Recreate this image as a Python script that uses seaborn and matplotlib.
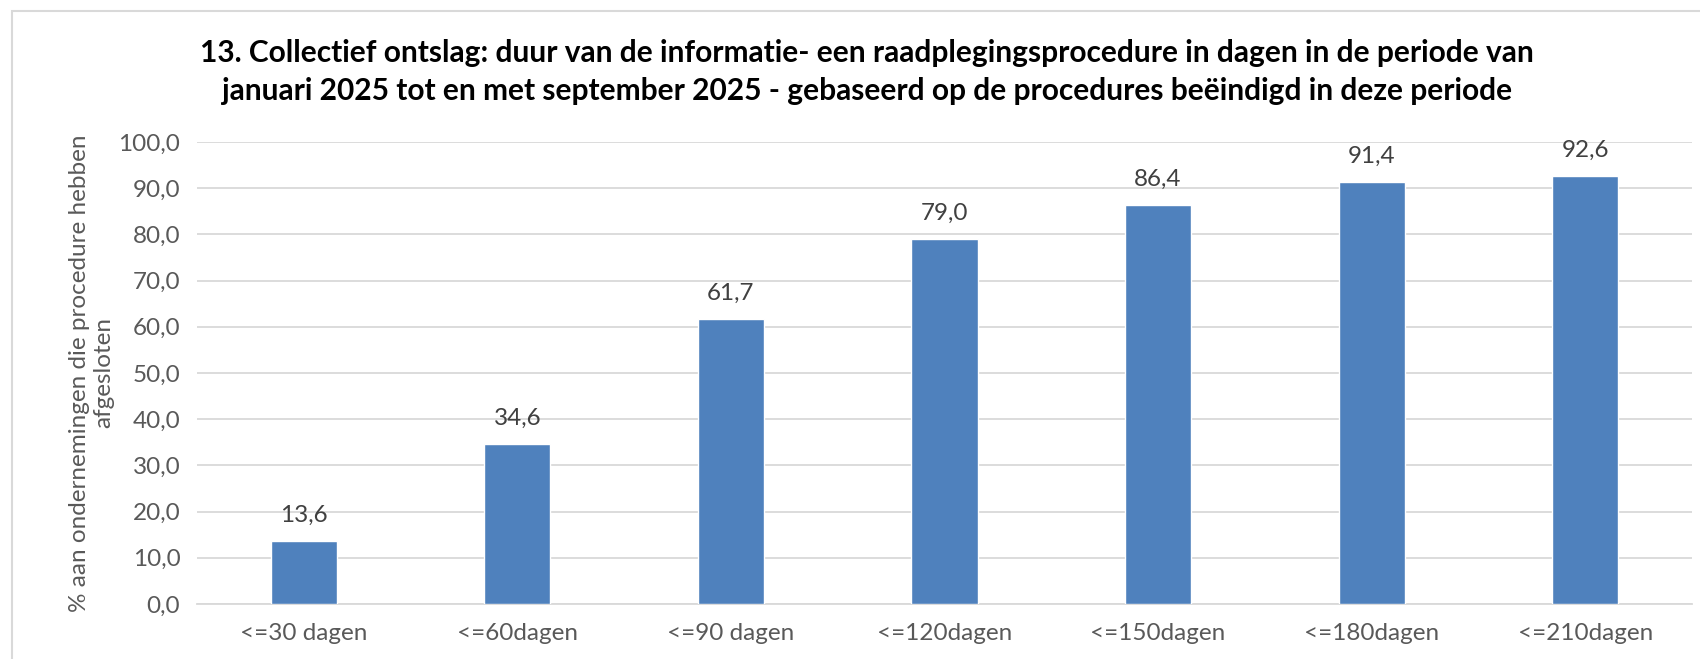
import matplotlib
matplotlib.use("Agg")
import matplotlib.pyplot as plt
import seaborn as sns
import pandas as pd
from matplotlib.patches import Rectangle

categories = ["<=30 dagen", "<=60dagen", "<=90 dagen", "<=120dagen", "<=150dagen", "<=180dagen", "<=210dagen"]
values = [13.6, 34.6, 61.7, 79.0, 86.4, 91.4, 92.6]
yticks = [0, 10, 20, 30, 40, 50, 60, 70, 80, 90, 100]

title = ("13. Collectief ontslag: duur van de informatie- een raadplegingsprocedure in dagen in de periode van\n"
         "januari 2025 tot en met september 2025 - gebaseerd op de procedures beëindigd in deze periode")
ylabel = "% aan ondernemingen die procedure hebben\nafgesloten"

sns.set_theme(style="white")
plt.rcParams['font.family'] = ['Lato', 'DejaVu Sans']

W, H = 1700, 659
fig = plt.figure(figsize=(W / 100, H / 100), dpi=100)
ax = fig.add_axes([197 / W, 1 - 604 / H, (1692 - 197) / W, (604 - 142) / H])

df = pd.DataFrame({"cat": categories, "val": values})
sns.barplot(data=df, x="cat", y="val", color="#4F81BD", saturation=1, width=0.31, ax=ax, zorder=3)

FS = 17.5
ax.set_ylim(0, 100)
ax.set_xlim(-0.5, len(categories) - 0.5)
ax.set_yticks(yticks)
ax.set_yticklabels([f"{v:.1f}".replace(".", ",") for v in yticks], color="#595959", fontsize=FS)
ax.set_xticks(range(len(categories)))
ax.set_xticklabels(categories, color="#595959", fontsize=FS)
ax.tick_params(axis="y", length=0, pad=12)
ax.tick_params(axis="x", length=0, pad=14)
ax.yaxis.grid(True, color="#D9D9D9", linewidth=1.3, zorder=0)
ax.set_axisbelow(True)
for s in ["top", "right", "left"]:
    ax.spines[s].set_visible(False)
ax.spines["bottom"].set_color("#D9D9D9")
ax.spines["bottom"].set_linewidth(1.3)

for i, v in enumerate(values):
    ax.annotate(f"{v:.1f}".replace(".", ","), (i, v), xytext=(0, 11), textcoords="offset points",
                ha="center", va="bottom", color="#404040", fontsize=FS)

ax.set_xlabel("")
ax.set_ylabel(ylabel, color="#595959", fontsize=FS, labelpad=3, linespacing=1.2)

fig.text(867 / W, 1 - 72 / H, title, ha="center", va="center", fontsize=21.5, fontweight="bold",
         color="black", linespacing=1.45)

fig.patches.append(Rectangle((12 / W, -0.1), 2, 1.1 - 11 / H, transform=fig.transFigure,
                             fill=False, edgecolor="#D9D9D9", linewidth=1.5))

fig.savefig("out.png", dpi=100, facecolor="white")
